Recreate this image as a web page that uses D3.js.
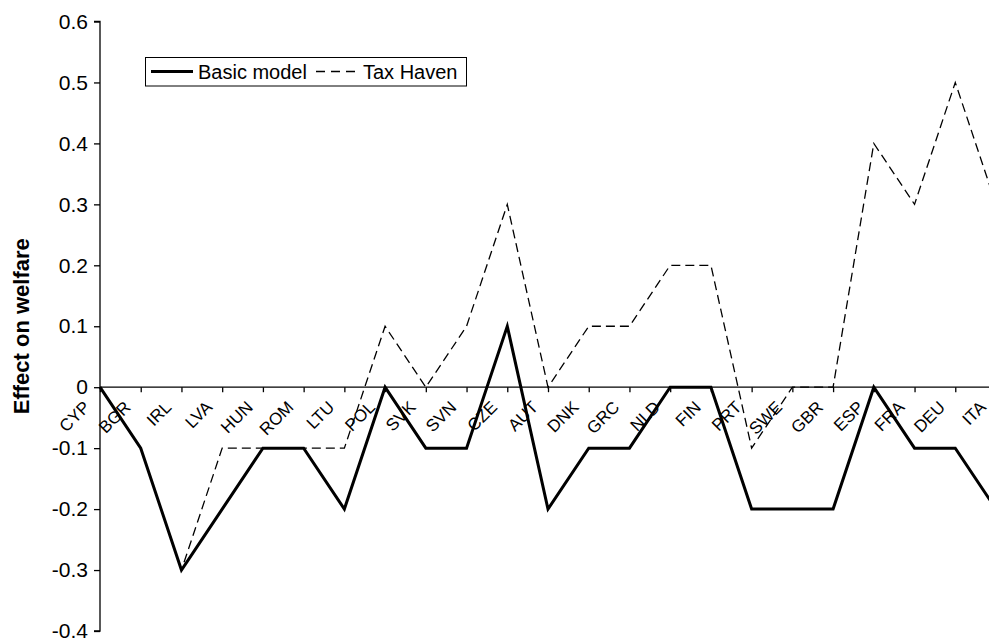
<!DOCTYPE html>
<html>
<head>
<meta charset="utf-8">
<script src="https://cdn.jsdelivr.net/npm/d3@7"></script>
<style>
  html, body { margin: 0; padding: 0; background: #fff; overflow: hidden; }
  svg { display: block; }
  text { font-family: "Liberation Sans", Arial, sans-serif; fill: #000; }
</style>
</head>
<body>
<svg id="chart" width="989" height="641"></svg>
<script>
const categories = ["CYP","BGR","IRL","LVA","HUN","ROM","LTU","POL","SVK","SVN","CZE","AUT","DNK","GRC","NLD","FIN","PRT","SWE","GBR","ESP","FRA","DEU","ITA"];
const basicModel = [0,-0.1,-0.3,-0.2,-0.1,-0.1,-0.2,0,-0.1,-0.1,0.1,-0.2,-0.1,-0.1,0,0,-0.2,-0.2,-0.2,0,-0.1,-0.1,-0.2];
const taxHaven   = [0,-0.1,-0.3,-0.1,-0.1,-0.1,-0.1,0.1,0,0.1,0.3,0,0.1,0.1,0.2,0.2,-0.1,0,0,0.4,0.3,0.5,0.3];
const yTicks = [-0.4,-0.3,-0.2,-0.1,0,0.1,0.2,0.3,0.4,0.5,0.6];
const seriesNames = ["Basic model","Tax Haven"];
const yTitle = "Effect on welfare";

const svg = d3.select("#chart");

const x = d3.scalePoint().domain(categories).range([100, 996]);
const y = d3.scaleLinear().domain([-0.4, 0.6]).range([631, 21.5]);

// Y axis
const yAxis = d3.axisLeft(y).tickValues(yTicks).tickSize(6).tickPadding(6)
  .tickFormat(d => d === 0 ? "0" : d3.format(".1f")(d).replace("\u2212", "-"));
const gy = svg.append("g").attr("transform", "translate(100,0)").call(yAxis);
gy.select(".domain").attr("stroke", "#000").attr("stroke-width", 1.3).attr("d", `M-6,${y(0.6)}H0V${y(-0.4)}H-6`);
gy.selectAll(".tick line").attr("stroke", "#000").attr("stroke-width", 1.3);
gy.selectAll(".tick text").style("font-size", "21px").style("font-family", '"Liberation Sans", Arial, sans-serif').attr("fill", "#000");

// X axis at y=0
const xAxis = d3.axisBottom(x).tickSize(5).tickFormat("");
const gx = svg.append("g").attr("transform", `translate(0,${y(0)})`).call(xAxis);
gx.select(".domain").attr("stroke", "#000").attr("stroke-width", 1.3).attr("d", "M100,0H1000");
gx.selectAll(".tick line").attr("stroke", "#000").attr("stroke-width", 1.3);

// Category labels rotated
svg.append("g").selectAll("text").data(categories).join("text")
  .attr("transform", d => `translate(${x(d) - 9},${y(0) + 21}) rotate(-45)`)
  .attr("text-anchor", "end")
  .style("font-size", "17px")
  .text(d => d);

// Lines
const line = d3.line().x((d, i) => x(categories[i])).y(d => y(d));
svg.append("path").datum(taxHaven).attr("d", line)
  .attr("fill", "none").attr("stroke", "#000").attr("stroke-width", 1.3)
  .attr("stroke-dasharray", "9,5");
svg.append("path").datum(basicModel).attr("d", line)
  .attr("fill", "none").attr("stroke", "#000").attr("stroke-width", 3)
  .attr("stroke-linejoin", "miter");

// Y title
svg.append("text")
  .attr("transform", `translate(28.5,${(y(0.6) + y(-0.4)) / 2}) rotate(-90)`)
  .attr("text-anchor", "middle")
  .style("font-size", "22px").style("font-weight", "bold")
  .text(yTitle);

// Legend
const lg = svg.append("g");
lg.append("rect").attr("x", 145.5).attr("y", 57.5).attr("width", 321).attr("height", 28.5)
  .attr("fill", "#fff").attr("stroke", "#000").attr("stroke-width", 1);
lg.append("line").attr("x1", 151).attr("x2", 193).attr("y1", 71.5).attr("y2", 71.5)
  .attr("stroke", "#000").attr("stroke-width", 3);
lg.append("text").attr("x", 198).attr("y", 79).style("font-size", "20px").text(seriesNames[0]);
lg.append("line").attr("x1", 316).attr("x2", 358).attr("y1", 71.5).attr("y2", 71.5)
  .attr("stroke", "#000").attr("stroke-width", 1.5).attr("stroke-dasharray", "9,6");
lg.append("text").attr("x", 363).attr("y", 79).style("font-size", "20px").text(seriesNames[1]);
</script>
</body>
</html>
